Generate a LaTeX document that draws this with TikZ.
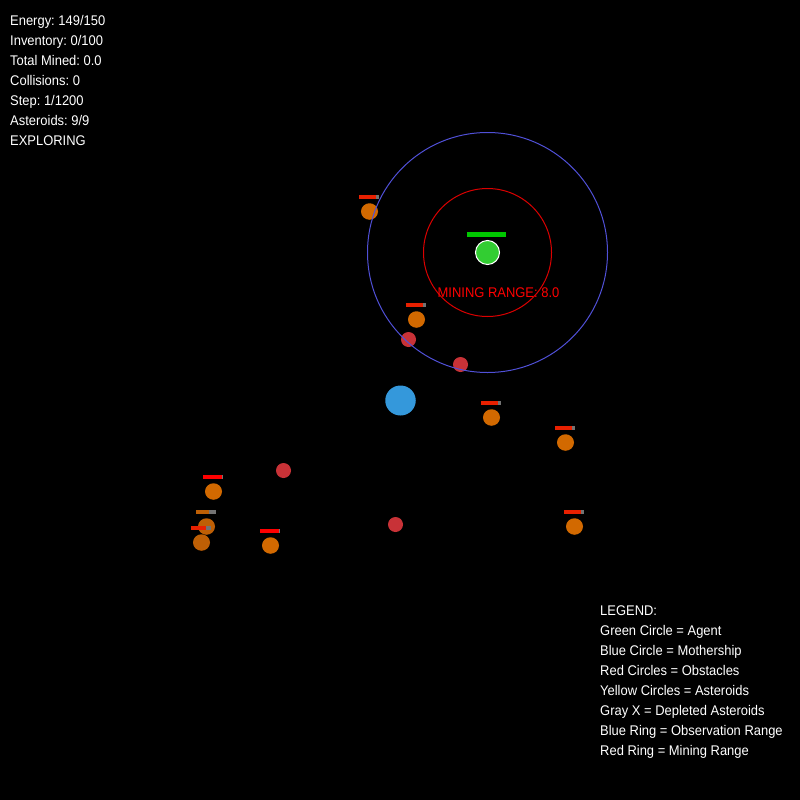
\documentclass[tikz,border=0pt]{standalone}
\usepackage{fontspec}
\setmainfont[FakeStretch=0.925]{Liberation Sans}
\usepackage{xcolor}
\usetikzlibrary{positioning, shapes.geometric}
\definecolor{agentgreen}{RGB}{50,205,50}
\definecolor{barshell}{RGB}{115,115,115}
\definecolor{shipblue}{RGB}{52,152,219}
\definecolor{rockred}{RGB}{200,50,55}
\definecolor{oreorange}{RGB}{210,105,0}
\definecolor{orebrown}{RGB}{190,95,5}
\definecolor{ringblue}{RGB}{80,80,215}
\definecolor{ringred}{RGB}{220,0,0}
\definecolor{barred}{RGB}{232,32,0}
\begin{document}
\frenchspacing
\begin{tikzpicture}[
    x=1pt, y=-1pt,
    hud/.style={anchor=west, inner sep=0pt, text=white, text height=12pt, text depth=1.5pt, font=\fontsize{14}{16}\selectfont},
    ball/.style args={#1x#2}{ellipse, inner sep=0pt, minimum width=#1, minimum height=#2},
    ore/.style={ball=17pt x 16.5pt, fill=oreorange},
    oredim/.style={ball=17pt x 16.5pt, fill=orebrown},
    rock/.style={ball=15pt x 15pt, fill=rockred},
    bar/.style={minimum height=4pt, minimum width=20pt, inner sep=0pt, fill=barshell}
]
    \fill[black] (0,0) rectangle (800,800);
    \useasboundingbox (0,0) rectangle (800,800);

    % status text
    \node[hud] at (10,20) (energy) {Energy: 149/150};
    \node[hud] at (10,40) (inventory) {Inventory: 0/100};
    \node[hud] at (10,60) (mined) {Total Mined: 0.0};
    \node[hud] at (10,80) (collisions) {Collisions: 0};
    \node[hud] at (10,100) (stepcount) {Step: 1/1200};
    \node[hud] at (10,120) (asteroids) {Asteroids: 9/9};
    \node[hud] at (10,140) (mode) {EXPLORING};

    % legend
    \node[hud] at (600,610) (legend) {LEGEND:};
    \node[hud] at (600,630) (lgagent) {Green Circle = Agent};
    \node[hud] at (600,650) (lgship) {Blue Circle = Mothership};
    \node[hud] at (600,670) (lgrock) {Red Circles = Obstacles};
    \node[hud] at (600,690) (lgore) {Yellow Circles = Asteroids};
    \node[hud] at (600,710) (lgdepleted) {Gray X = Depleted Asteroids};
    \node[hud] at (600,730) (lgobs) {Blue Ring = Observation Range};
    \node[hud] at (600,750) (lgmining) {Red Ring = Mining Range};

    % mothership and obstacles
    \node[ball=30.5pt x 30pt, fill=shipblue] at (400.5,400.5) (ship) {};
    \node[rock] at (408.5,339.5) (rocka) {};
    \node[rock] at (460.5,364.5) (rockb) {};
    \node[rock] at (283.5,470.5) (rockc) {};
    \node[rock] at (395.5,524.5) (rockd) {};

    % asteroids with their bars
    \foreach \name/\cx/\cy/\full/\fcol/\shade in {
        ora/369.5/211.5/17/barred/ore,
        orb/416.5/319.5/17/barred/ore,
        orc/491.5/417.5/17/barred/ore,
        ord/565.5/442.5/17/barred/ore,
        ore/574.5/526.5/17/barred/ore,
        orf/270.5/545.5/19/red/ore,
        org/213.5/491.5/19/red/ore,
        orh/206.5/526.5/13/orebrown/oredim,
        ori/201.5/542.5/15/barred/oredim}{
        \node[\shade] at (\cx,\cy) (\name) {};
        \node[bar] at (\cx-0.5,\cy-14.5) (\name bar) {};
        \fill[\fcol] (\name bar.north west) rectangle ([xshift=\full pt]\name bar.south west);
    }

    % agent and its ranges
    \node[ball=24pt x 24pt, fill=agentgreen, draw=white, line width=1pt] at (487.5,252.5) (agent) {};
    \node[minimum width=39pt, minimum height=5pt, inner sep=0pt, fill=green!78!black] at (486.5,234.5) (agentbar) {};
    \node[ball=240pt x 240pt, draw=ringblue, line width=1pt] at (agent.center) (obsring) {};
    \node[ball=128pt x 128pt, draw=ringred, line width=1pt] at (agent.center) (minering) {};
    \node[hud, text=red, anchor=center] at (498.5,292) (minelabel) {MINING RANGE: 8.0};
\end{tikzpicture}
\end{document}
